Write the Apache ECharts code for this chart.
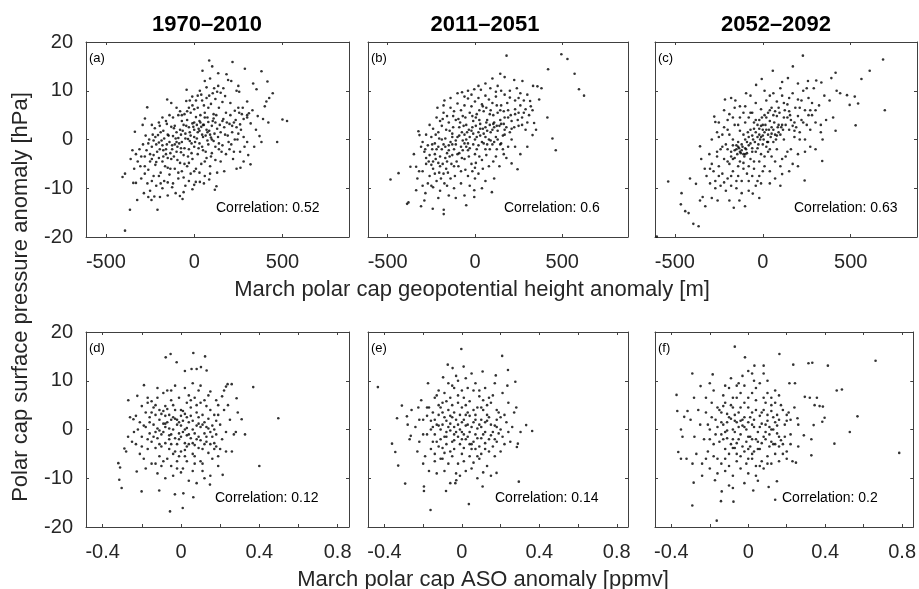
<!DOCTYPE html>
<html><head><meta charset="utf-8">
<script src="https://cdn.jsdelivr.net/npm/echarts@6/dist/echarts.min.js"></script>
<style>html,body{margin:0;padding:0;background:#fff}#c{width:919px;height:589px}</style>
</head><body><div id="c"></div><script>
const periods = ['1970–2010', '2011–2051', '2052–2092'];
const panelLetters = ['(a)', '(b)', '(c)', '(d)', '(e)', '(f)'];
const correlations = ['0.52', '0.6', '0.63', '0.12', '0.14', '0.2'];
const zTicks = [-500, 0, 500];
const asoTicks = [-0.4, -0.2, 0, 0.2, 0.4, 0.6, 0.8];
const asoLabels = [-0.4, 0, 0.4, 0.8];
const xTitleTop = 'March polar cap geopotential height anomaly [m]';
const xTitleBottom = 'March polar cap ASO anomaly [ppmv]';
const yTitle = 'Polar cap surface pressure anomaly [hPa]';

// (a) geopotential height [m] vs surface pressure [hPa], 1970–2010
const gphA = [[85,16.2],[102,15.0],[217,15.9],[47,14.1],[136,13.6],[183,13.4],[287,14.5],[381,14.0],[415,11.9],[334,11.5],[353,10.3],[445,9.5],[425,8.5],[409,7.8],[500,4.1],[526,3.8],[470,-0.5],[381,-0.5],[306,-3.2],[319,-5.1],[262,-5.8],[-392,-7.0],[-406,-7.7],[-345,-8.9],[-330,-8.9],[-323,-12.4],[-364,-14.4],[-208,-14.4],[-392,-18.7],[-260,-11.8],[-285,-11.0],[-242,-12.4],[-226,-11.7],[-194,-11.8],[-66,-12.2],[-81,-11.6],[117,-10.3],[126,-9.6],[85,-8.2],[9,-8.7],[0,-9.3],[32,-8.7],[-266,6.6],[-279,4.3],[-292,3.0],[-336,1.6],[-223,2.3],[-153,8.2],[-43,10.2],[-25,8.0],[-11,8.8],[32,10.0],[70,10.7],[113,10.5],[136,11.0],[192,12.2],[240,10.0],[255,9.8],
[150,9.6],[175,8.9],[205,7.5],[230,5.9],[250,6.5],[270,5.2],[300,5.0],[310,5.4],[330,6.0],[400,6.8],[120,8.3],[140,6.5],[160,7.7],[180,5.5],[110,5.2],[95,7.3],[80,6.5],[55,7.0],[60,5.5],[40,9.2],[20,9.0],[0,6.2],[-20,5.5],[-45,7.9],[-80,5.8],[-100,6.5],[-130,7.5],
[200,3.2],[215,2.8],[225,3.5],[240,2.5],[260,3.1],[280,4.2],[300,4.5],[320,3.3],[350,2.0],[370,0.7],[390,4.2],[340,-1.5],[300,-0.5],[280,0.5],[250,1.2],[230,0.0],[210,-1.0],[190,0.8],[170,2.5],[160,3.8],[150,1.5],[140,-0.8],[130,2.2],[120,3.5],[110,4.3],[100,2.8],[90,1.0],[80,3.6],[70,2.0],[60,4.5],[50,0.5],[40,2.6],[30,3.8],[20,1.5],[10,4.6],[0,2.0],[-10,3.3],[-20,0.8],[-30,2.5],[-40,4.0],[-50,1.2],[-60,3.0],[-70,-0.5],[-80,2.0],[-90,0.3],[-100,1.5],[-110,-1.0],[-120,0.7],[-130,2.6],[-140,-0.5],[-150,1.0],[-160,-2.0],[-170,0.2],[-180,-1.2],[-190,1.5],[-200,-0.6],[-210,-2.5],[-220,0.5],[-240,-1.5],[-250,-3.0],[-260,-0.8],[-270,-2.2],[-290,-1.0],[-300,-3.5],[-310,-2.0],[-320,-4.5],[-280,-5.5],[-260,-6.2],[-240,-4.0],[-230,-7.5],[-220,-5.2],[-200,-3.8],[-190,-6.8],[-180,-4.5],[-170,-8.5],[-160,-3.0],[-150,-5.8],[-140,-7.2],[-130,-4.0],[-120,-9.0],[-110,-6.0],[-100,-2.5],[-90,-8.0],[-80,-4.8],[-70,-6.5],[-60,-3.2],[-50,-9.5],[-40,-5.5],[-30,-2.0],[-20,-7.0],[-10,-4.0],[0,-1.5],[10,-6.0],[20,-3.0],[30,-0.8],[40,-5.0],[50,-2.2],[60,-7.5],[70,-3.8],[80,-1.0],[90,-5.5],[100,-2.8],[110,-0.3],[120,-4.2],[130,-6.8],[140,-2.0],[150,-4.5],[160,-1.2],[180,-3.0],[200,-2.0],[220,-4.0],[170,-6.5],[0,0.5],[-15,-0.8],[15,0.2],[30,1.8],[-35,0.1],[45,-1.5],[65,0.8],[-55,-1.8],[75,-0.2],[-75,1.0],[95,0.4],[-95,-1.5],[-115,2.3],[-135,-2.8],[-155,3.2],[-175,-3.5],[-195,2.8],[-215,-1.0],[-235,1.0],[-255,0.0],[-275,0.8],[-305,-5.5],[-330,-3.0],[-350,-2.2],[-265,-9.0],[-250,-10.5],[-215,-9.5],[-180,-10.0],[-150,-11.5],[-125,-9.8],[-105,-11.0],[-60,-10.8],[-30,-8.5],[55,-9.0],[-10,-10.2],[-300,-8.0],[-280,-7.0],[-340,-6.0],[-360,-4.0],[-120,4.5],[-140,5.0],[-160,3.8],[-180,4.5],[-200,3.5],[-240,3.0],[-90,5.0],[-70,3.8],[-55,5.2],[-30,6.5],[20,6.5],[35,5.0],[70,8.5],[130,9.8],[165,10.5],[90,12.5],[60,12.0],[210,12.0],[250,11.0],[300,7.8],[360,4.8],[420,3.5],[260,-2.5],[280,-4.5],[240,-6.0],
[-230,-3.2],[-215,-4.6],[-205,0.9],[-195,-2.0],[-185,-0.2],[-175,1.8],[-165,-5.5],[-155,-1.0],[-145,0.8],[-135,-6.0],[-125,-1.2],[-115,-3.5],[-105,0.2],[-95,-4.2],[-85,-0.8],[-75,-2.6],[-65,1.8],[-55,-5.0],[-45,2.8],[-35,-3.5],[-25,1.5],[-15,-2.8],[-5,2.6],[5,-0.5],[15,3.0],[25,-1.8],[35,3.5],[45,1.0],[55,3.0],[65,-2.5],[75,4.5],[85,1.8],[95,-3.5],[105,3.8],[115,1.2],[125,5.0],[135,0.5],[145,3.0],[155,-2.5],[165,4.2],[175,1.0],[185,3.5],[195,-0.5],[205,5.0],[215,1.5],[225,-2.5],[235,4.0],[245,0.0],[255,5.5],[265,2.0],[275,6.5],[285,-1.5],[-90,-6.8],[-60,-7.8],[-30,-4.8],[0,-6.5],[30,-6.8],[60,-4.5],[90,-7.0],[-150,-8.8],[-200,-7.5],[-240,-8.5],[-110,2.8],[-70,5.0],[-40,5.8],[-10,7.0],[10,8.0],[45,8.0],[85,9.0],[105,9.5],[-190,-9.0],[-250,-4.5],[-280,-3.5],[-230,-0.2],[120,-1.5],[100,0.0],[75,1.5],[50,3.0],[25,2.2],[0,3.5],[-25,-0.3],[-50,0.2],[-75,-1.8],[-100,-0.5],[-125,-2.0],[-150,-3.8],[-175,-2.2]];

// (b) 2011–2051
const gphB = [[181,17.2],[495,17.5],[530,16.5],[419,14.4],[571,13.5],[596,10.3],[625,9.0],[145,13.5],[225,12.2],[272,12.0],[333,11.0],[358,10.9],[381,10.5],[368,8.2],[316,7.9],[415,4.5],[339,3.4],[444,0.2],[463,-2.2],[330,0.9],[210,-4.9],[244,-6.1],[-484,-8.2],[-438,-6.9],[-370,-5.6],[-337,-5.6],[-381,-12.9],[-389,-13.2],[-309,-13.7],[-242,-14.2],[-179,-15.3],[-179,-14.4],[-50,-13.5],[-4,-11.8],[-4,-10.4],[97,-10.8],[-337,-10.4],[-290,-12.5],[-284,-11.0],[-175,8.0],[-74,9.7],[-4,10.3],[34,10.2],[88,10.5],[130,11.0],[-324,1.7],[-318,0.9],[-309,-1.5],
[150,10.0],[170,9.2],[200,8.6],[230,8.0],[260,7.0],[290,6.2],[120,8.8],[100,7.5],[80,8.2],[60,9.0],[40,7.2],[20,8.5],[0,7.8],[-20,6.8],[-40,8.4],[-60,7.0],[-80,6.0],[-100,7.4],[-120,5.8],[-140,6.5],[-160,4.8],[-180,5.5],[-200,3.8],[-220,4.5],[-240,2.2],[-260,3.0],[-280,1.0],[-300,-0.5],[-290,-2.5],[-270,-1.2],[-250,0.5],[-230,-0.8],[-210,1.5],[-190,2.8],[-170,0.2],[-150,3.5],[-130,1.2],[-110,4.0],[-90,2.5],[-70,4.8],[-50,3.0],[-30,5.5],[-10,3.8],[10,5.2],[30,3.2],[50,5.8],[70,4.0],[90,6.0],[110,3.5],[130,5.5],[150,7.0],[170,4.5],[190,6.0],[210,3.8],[230,5.2],[250,2.8],[270,4.5],[290,2.0],[310,5.0],[250,8.5],[200,1.5],[180,2.5],[160,0.8],[140,2.8],[120,0.5],[100,2.0],[80,0.0],[60,2.5],[40,-0.5],[20,1.5],[0,0.0],[-20,1.8],[-40,-0.8],[-60,1.0],[-80,-1.5],[-100,0.5],[-120,-2.0],[-140,-0.5],[-160,-2.8],[-180,-1.0],[-200,-3.5],[-220,-2.0],[-240,-4.5],[-260,-3.2],[-280,-5.0],[-300,-6.5],[-260,-7.5],[-240,-6.0],[-220,-8.5],[-200,-5.5],[-180,-7.0],[-160,-4.5],[-140,-8.0],[-120,-5.5],[-100,-3.0],[-80,-6.5],[-60,-4.0],[-40,-2.2],[-20,-5.0],[0,-3.0],[20,-1.2],[40,-4.2],[60,-2.0],[80,-5.5],[100,-1.0],[120,-3.5],[140,-5.5],[160,-2.0],[180,-3.8],[-160,-9.5],[-200,-10.5],[-240,-9.8],[-120,-10.0],[-80,-9.0],[-40,-7.5],[20,-7.0],[60,-8.5],[110,-8.0],[-270,-9.0],[-300,-9.5],[-330,-8.0],[-10,-1.0],[10,-2.0],[-30,0.5],[30,0.8],[-50,-1.5],[50,1.2],[-70,-0.2],[70,-1.0],[-90,-2.8],[90,1.5],[-110,-1.0],[110,-0.5],[-130,0.5],[130,1.8],[-150,-1.2],[150,-0.8],[-170,-3.8],[170,1.0],[-190,0.0],[190,-1.5],[-210,-1.5],[210,0.0],[5,4.5],[-15,2.5],[25,6.0],[45,2.2],[-45,1.5],[65,6.5],[-65,2.8],[85,3.0],[-85,3.5],[105,5.0],[-105,-4.5],[125,2.8],[-125,2.5],[145,4.0],[-145,-3.5],[165,5.8],[-165,-6.0],[185,7.5],[-185,-5.0],[205,5.0],[-205,-6.8],[225,2.5],[-225,-4.0],[245,4.0],[-245,-2.0],[280,5.5],[-280,-3.8],[300,3.5],[320,6.8],[-30,-9.5],[-60,-11.5],[-110,-12.0],[-150,-11.5],[0,-8.0],[40,-10.0],[-350,-3.0],[-320,-6.5],[-215,6.5],[-180,7.0],[-140,8.5],[-100,9.5],[-60,8.8],[-20,9.2],[60,11.5],[100,12.5],[170,12.8],[240,10.5],[300,9.2],[330,6.0],[350,2.0],[300,-1.5],[260,-3.0],[230,-1.5],
[-250,-5.2],[-230,-3.0],[-210,-4.8],[-190,-2.0],[-170,-1.5],[-150,-2.2],[-130,-3.2],[-110,-0.2],[-90,0.8],[-70,-2.2],[-50,0.0],[-30,-1.8],[-10,1.2],[10,0.5],[30,2.2],[50,-0.8],[70,1.8],[90,-0.2],[110,2.5],[130,0.0],[150,3.2],[170,2.0],[190,4.5],[210,2.2],[230,6.2],[250,5.5],[270,3.0],[-95,4.2],[-75,1.5],[-55,4.5],[-35,2.0],[-15,4.8],[5,2.8],[25,4.0],[45,6.8],[65,3.5],[85,5.2],[105,3.2],[125,7.0],[145,6.0],[165,3.2],[-145,1.8],[-125,4.8],[-165,2.0],[-185,4.2],[-205,0.2],[-225,1.0],[-245,-1.0],[-265,-4.5],[-285,-2.0],[-195,-8.0],[-175,-9.0],[-155,-6.8],[-135,-5.0],[-115,-7.5],[-95,-5.5],[-75,-3.8],[-55,-6.2],[-35,-3.5],[-15,-6.5],[5,-4.8],[25,-3.5],[45,-6.0],[65,-3.2],[85,-2.0],[105,-4.5],[125,-2.0],[145,-1.0],[165,-3.0],[-230,-7.0],[-250,-9.5],[-210,-12.0],[20,11.0],[-40,10.0],[120,9.8],[200,10.0],[260,9.5],[280,8.0],[0,-5.8],[-130,-1.0],[-60,-0.8],[60,0.5]];

// (c) 2052–2092
const gphC = [[228,17.2],[171,15.0],[57,14.1],[-6,12.4],[110,11.8],[143,12.6],[-38,11.2],[-95,9.5],[-215,8.2],[-156,8.0],[684,16.4],[608,14.1],[561,12.4],[414,13.7],[390,12.6],[304,12.1],[257,12.0],[333,11.7],[479,9.1],[523,8.8],[494,7.1],[542,7.4],[694,6.0],[528,2.9],[414,1.8],[338,-4.4],[238,-8.4],[110,-7.1],[-538,-8.6],[-462,-11.0],[-466,-13.3],[-441,-14.7],[-422,-15.1],[-395,-17.3],[-365,-17.8],[-414,-8.0],[-380,-9.1],[-357,-12.5],[-342,-11.8],[-327,-13.7],[-257,-12.5],[-165,-14.0],[-101,-13.7],[-57,-11.1],[-133,-12.5],[-603,-19.9],[-357,-1.4],[-304,-3.0],[-276,4.7],[-270,3.6],
[-220,6.0],[-190,5.2],[-160,6.5],[-130,4.5],[-100,6.8],[-70,5.5],[-40,7.5],[-10,6.2],[20,8.0],[50,6.5],[80,7.8],[110,9.0],[140,7.2],[170,9.5],[200,8.2],[230,10.0],[260,8.5],[290,10.5],[320,7.0],[350,9.0],[380,8.0],[420,10.0],[440,9.5],[260,5.0],[230,3.5],[200,4.8],[170,2.8],[140,4.5],[110,3.0],[80,4.8],[50,2.5],[20,4.5],[-10,2.8],[-40,4.0],[-70,2.0],[-100,3.5],[-130,1.8],[-160,3.0],[-190,1.0],[-220,2.5],[-250,0.5],[-240,-2.0],[-210,-1.0],[-180,-2.5],[-150,-1.2],[-120,-2.2],[-90,-0.5],[-60,-1.8],[-30,0.5],[0,-1.0],[30,1.0],[60,-0.5],[90,1.5],[120,0.0],[150,2.0],[180,0.5],[210,1.5],[240,0.0],[270,2.0],[300,3.5],[330,1.5],[300,6.0],[270,-1.5],[200,-3.0],[170,-5.0],[140,-2.5],[110,-4.0],[80,-2.0],[50,-3.5],[20,-1.5],[-10,-3.0],[-40,-2.5],[-70,-4.0],[-100,-3.0],[-130,-4.5],[-160,-3.8],[-190,-5.0],[-220,-4.0],[-250,-5.5],[-280,-6.5],[-260,-3.5],[-230,-7.0],[-200,-8.0],[-170,-6.5],[-140,-7.5],[-110,-6.0],[-80,-8.5],[-50,-6.0],[-20,-7.5],[10,-5.5],[40,-6.5],[70,-8.0],[-300,-9.0],[-270,-10.0],[-240,-9.5],[-210,-10.5],[-180,-9.5],[-150,-10.0],[-120,-11.0],[-80,-10.5],[-40,-9.5],[-10,-9.0],[-320,-7.5],[-290,-5.0],[0,2.0],[-20,1.0],[15,3.0],[-50,2.2],[35,2.0],[-80,0.5],[65,3.5],[-110,1.0],[95,5.5],[-140,-0.5],[125,6.0],[-170,0.0],[155,5.0],[-200,-2.0],[185,6.5],[-115,-1.5],[-125,-2.8],[-135,-1.8],[-95,-2.0],[-145,-3.0],[-105,-3.5],[5,0.0],[25,-0.5],[-25,-1.0],[45,0.5],[-55,0.0],[75,0.0],[-85,1.5],[105,2.5],[-5,4.5],[30,5.5],[60,5.0],[-30,3.0],[-60,5.5],[90,3.0],[120,4.5],[150,5.8],[180,3.5],[210,6.5],[240,6.0],[280,5.0],[360,4.0],[240,-2.5],[200,-5.5],[150,-6.5],[-350,-4.0],[-330,-6.0],[-200,4.0],[-230,1.0],[-180,8.5],[-70,9.0],[10,10.0],[60,9.5],[100,10.5],[200,11.5],[250,10.5],[400,4.5],[340,0.0],[300,-2.0],[100,-9.5],[40,-9.0],[-20,-12.0],[-190,-12.5],[-290,-12.0],[160,-2.0],[-260,1.5],[-290,0.0],
[-150,-2.0],[-140,-1.5],[-130,-2.5],[-120,-1.0],[-110,-3.0],[-100,-1.8],[-90,-2.8],[-80,-1.2],[-160,-2.2],[-170,-1.2],[-180,-3.5],[-60,0.8],[-40,1.5],[-20,2.2],[0,3.0],[20,2.0],[40,3.8],[10,1.5],[-10,0.5],[30,-2.5],[60,2.0],[70,1.0],[85,2.5],[100,1.0],[115,2.0],[130,3.0],[160,4.0],[190,2.5],[220,4.0],[250,3.0],[280,7.5],[150,8.5],[90,6.5],[70,5.8],[40,6.0],[10,5.0],[-20,4.0],[-50,3.5],[-80,4.5],[-110,5.5],[-140,3.0],[-170,4.5],[-200,2.0],[-230,-1.5],[-260,-2.5],[-200,-4.5],[-170,-4.0],[-140,-5.5],[-110,-4.8],[-80,-5.5],[-50,-4.5],[-20,-4.5],[10,-3.5],[40,-2.0],[70,-4.5],[100,-5.5],[130,-3.5],[0,-6.5],[-30,-8.5],[-60,-7.5],[-90,-7.0],[-120,-8.5],[-150,-8.5],[-180,-7.5],[-220,-8.8],[-250,-7.5],[-60,-2.5],[-30,-1.8],[0,0.8],[30,-0.5],[50,1.2],[80,0.8],[-100,0.0],[-70,-0.8],[-45,-0.5],[-15,0.0],[180,1.8],[210,0.0],[330,3.0],[270,6.0],[220,8.0],[120,7.5],[40,9.0],[-130,6.8],[-250,3.5],[-300,-6.0],[-270,-8.5]];

// (d) ASO [ppmv] vs surface pressure [hPa], 1970–2010
const asoD = [[-0.053,15.5],[-0.078,14.8],[0.063,15.7],[0.123,15.0],[-0.022,13.8],[0.054,12.4],[0.080,12.4],[0.102,12.8],[0.131,12.1],[0.020,12.0],[0.238,9.3],[0.259,9.3],[0.230,8.8],[0.369,8.7],[0.497,2.3],[0.400,-7.5],[0.327,-1.0],[0.310,2.1],[0.284,6.4],[-0.320,-6.9],[-0.311,-7.8],[-0.315,-10.3],[-0.303,-12.0],[-0.201,-12.7],[-0.226,-8.6],[-0.111,-12.5],[-0.056,-16.8],[0.009,-16.1],[-0.031,-13.3],[0.012,-13.1],[0.063,-13.9],[-0.269,6.0],[-0.223,6.9],[-0.189,9.1],[-0.243,2.1],[-0.289,-3.9],[0.213,-9.3],[0.148,-11.3],
[-0.22,0.0],[-0.20,-1.5],[-0.18,3.5],[-0.17,-4.0],[-0.16,1.5],[-0.15,-2.5],[-0.14,4.5],[-0.13,-0.5],[-0.12,6.5],[-0.11,2.0],[-0.10,-3.5],[-0.09,7.5],[-0.08,0.5],[-0.07,-6.0],[-0.06,3.0],[-0.05,-1.0],[-0.04,5.0],[-0.03,-4.5],[-0.02,1.0],[-0.01,-2.0],[0.00,4.0],[0.01,-0.5],[0.02,-5.5],[0.03,2.5],[0.04,-3.0],[0.05,6.0],[0.06,0.0],[0.07,-7.0],[0.08,3.5],[0.09,-1.5],[0.10,5.5],[0.11,-4.0],[0.12,1.5],[0.13,-2.5],[0.14,7.0],[0.15,-0.5],[0.16,-6.0],[0.17,3.0],[0.18,-3.5],[0.19,5.0],[0.20,1.0],[0.21,-2.0],[0.22,4.0],[0.23,-4.5],[0.25,2.0],[0.27,-1.0],[0.29,3.5],[-0.25,-2.5],[-0.23,2.8],[-0.21,-5.0],[-0.19,0.8],[-0.17,5.5],[-0.15,-7.0],[-0.13,3.0],[-0.11,-5.5],[-0.09,1.2],[-0.07,4.2],[-0.05,-7.5],[-0.03,2.2],[-0.01,6.5],[0.01,-8.0],[0.03,-1.2],[0.05,2.8],[0.07,-3.2],[0.09,8.0],[0.11,-8.5],[0.13,4.8],[0.15,-9.5],[0.17,0.0],[0.19,-5.5],[0.21,6.8],[0.23,-0.5],[-0.16,-0.8],[-0.14,1.0],[-0.12,-1.8],[-0.10,3.2],[-0.08,-2.8],[-0.06,0.2],[-0.04,2.5],[-0.02,-3.0],[0.00,0.8],[0.02,3.2],[0.04,-1.0],[0.06,1.8],[0.08,-2.0],[0.10,0.5],[0.12,-3.0],[0.14,2.2],[0.16,-1.5],[0.18,1.8],[-0.12,8.5],[-0.07,8.0],[-0.03,9.0],[0.02,8.5],[0.06,9.5],[0.10,9.0],[0.15,7.8],[-0.18,-8.0],[-0.12,-9.0],[-0.08,-10.0],[-0.04,-9.5],[0.00,-8.8],[0.04,-10.5],[0.08,-11.0],[0.12,-10.0],[-0.28,-4.5],[-0.26,2.5],[-0.27,-1.5],[0.26,-4.5],[0.28,-0.5],[0.24,5.0],[-0.10,-7.5],[-0.06,-4.0],[-0.02,-6.5],[0.02,-2.8],[0.06,-5.0],[0.10,-6.5],[0.14,-4.8],[-0.15,5.8],[-0.11,4.0],[-0.05,6.0],[0.03,5.5],[0.07,6.5],[0.11,3.0],[-0.20,4.8],[-0.24,-0.5],[-0.20,-3.5],[-0.06,-2.0],[-0.01,-0.8],[0.01,1.8],[0.05,-1.8],[-0.09,-0.5],[-0.13,-3.8],[-0.08,2.8],[0.03,0.3],[0.09,1.2],[0.13,0.5],[0.17,-2.8],[0.20,-4.0],[-0.04,-5.0],[0.00,-4.5],
[-0.18,0.5],[-0.16,2.5],[-0.14,-1.5],[-0.12,0.2],[-0.10,-1.0],[-0.08,1.2],[-0.06,-1.2],[-0.04,0.0],[-0.02,2.0],[0.00,-1.5],[0.02,0.0],[0.04,1.5],[0.06,-2.8],[0.08,0.8],[0.10,-2.2],[0.12,-0.8],[0.14,0.2],[0.16,0.8],[0.18,-1.0],[-0.15,3.5],[-0.13,5.0],[-0.11,-3.0],[-0.09,3.8],[-0.07,1.5],[-0.05,2.0],[-0.03,4.0],[-0.01,1.5],[0.01,3.8],[0.03,-3.5],[0.05,4.5],[0.07,-0.8],[0.09,2.5],[0.11,1.0],[0.13,-1.5],[0.15,4.0],[0.17,-4.0],[0.19,3.0],[-0.17,-2.0],[-0.19,-6.0],[-0.21,1.5],[-0.23,-3.0],[-0.09,-6.5],[-0.05,-3.0],[-0.01,-5.5],[0.03,-6.5],[0.07,-5.5],[0.11,-7.0],[0.15,-3.0],[0.19,-7.5],[-0.13,-7.0],[-0.17,6.5],[-0.05,8.0],[0.04,7.0],[0.08,5.0],[0.12,6.0],[0.18,6.0],[0.22,8.0],[-0.02,-8.0],[0.06,-8.5],[-0.08,4.8],[0.00,2.8],[-0.03,-1.8],[0.02,-4.2],[0.09,-3.8],[-0.11,-0.2]];

// (e) 2011–2051
const asoE = [[-0.003,16.5],[0.208,15.1],[-0.073,13.3],[-0.048,12.6],[0.009,12.9],[0.238,12.2],[0.107,11.9],[0.175,11.1],[-0.097,10.7],[-0.434,8.7],[-0.175,9.5],[0.276,9.8],[0.235,9.0],[0.281,4.5],[0.332,0.9],[0.363,-0.3],[0.303,-0.5],[0.289,-2.9],[0.284,-3.6],[0.179,-8.9],[0.294,-10.7],[0.107,-11.7],[0.036,-15.3],[-0.162,-16.5],[-0.082,-12.6],[-0.196,-11.7],[-0.196,-12.6],[-0.293,-11.1],[-0.329,-7.4],[-0.361,-2.9],[-0.344,-4.6],[-0.335,2.3],[-0.310,4.9],[-0.284,2.7],[-0.264,-1.3],[-0.225,4.5],[-0.034,-11.0],[-0.029,-10.4],
[-0.20,2.0],[-0.18,-1.0],[-0.17,4.5],[-0.16,-4.0],[-0.15,0.5],[-0.14,6.5],[-0.13,-2.5],[-0.12,3.0],[-0.11,-6.0],[-0.10,1.0],[-0.09,7.5],[-0.08,-1.5],[-0.07,4.0],[-0.06,-4.5],[-0.05,2.5],[-0.04,8.5],[-0.03,-0.5],[-0.02,5.5],[-0.01,-3.0],[0.00,1.5],[0.01,6.5],[0.02,-2.0],[0.03,3.5],[0.04,-5.5],[0.05,0.5],[0.06,8.0],[0.07,-1.0],[0.08,4.5],[0.09,-3.5],[0.10,2.0],[0.11,6.0],[0.12,-0.5],[0.13,3.0],[0.14,-4.5],[0.15,1.0],[0.16,7.0],[0.17,-2.0],[0.18,4.0],[0.19,-0.8],[0.20,2.5],[0.22,-3.0],[0.24,5.5],[0.26,0.5],[-0.22,-2.5],[-0.24,0.5],[-0.26,4.0],[-0.21,6.0],[-0.19,-5.5],[-0.17,-8.5],[-0.15,3.5],[-0.13,7.0],[-0.11,-2.0],[-0.09,2.5],[-0.07,-7.0],[-0.05,5.0],[-0.03,-9.0],[-0.01,3.0],[0.01,-6.5],[0.03,8.5],[0.05,-8.0],[0.07,2.0],[0.09,-6.0],[0.11,4.0],[0.13,-7.5],[0.15,5.5],[0.17,-5.5],[0.19,3.5],[0.21,-1.5],[0.23,1.5],[0.25,-2.5],[-0.14,-1.0],[-0.12,0.8],[-0.10,-3.8],[-0.08,1.8],[-0.06,-0.2],[-0.04,3.5],[-0.02,-1.5],[0.00,4.5],[0.02,0.8],[0.04,2.8],[0.06,-2.5],[0.08,0.2],[0.10,-1.8],[0.12,1.5],[0.14,-2.0],[-0.05,-5.5],[-0.09,-8.5],[-0.13,-9.0],[-0.01,-9.5],[0.05,-4.0],[0.10,-5.0],[0.16,-3.5],[0.20,-4.5],[-0.02,10.0],[0.02,10.5],[0.07,9.5],[0.12,8.5],[-0.07,9.5],[-0.12,8.0],[-0.03,11.0],[0.05,11.5],[0.17,9.5],[0.21,7.5],[-0.23,-4.5],[-0.27,-2.0],[-0.28,1.0],[-0.20,-7.0],[-0.16,1.8],[-0.08,5.8],[0.00,-0.5],[0.04,5.8],[0.09,6.8],[0.13,5.0],[-0.04,0.5],[0.03,-1.5],[0.07,3.0],[-0.11,4.5],[0.18,0.5],[0.22,3.0],[-0.06,1.2],[0.01,2.0],[-0.18,2.8],[0.27,3.5],[0.01,-3.8],[-0.04,-2.2],[0.06,-6.8],[-0.09,-4.8],[0.11,-8.8],[-0.14,-5.0],[0.15,-9.5],[-0.06,-11.0],[0.08,-10.0],
[-0.16,0.0],[-0.14,2.0],[-0.12,-3.5],[-0.10,3.5],[-0.08,-0.5],[-0.06,2.8],[-0.04,-1.0],[-0.02,1.0],[0.00,-2.0],[0.02,3.0],[0.04,-0.5],[0.06,1.5],[0.08,-1.8],[0.10,0.5],[0.12,-2.8],[0.14,2.5],[0.16,-0.5],[0.18,2.0],[-0.15,-2.5],[-0.13,1.0],[-0.11,0.0],[-0.09,-1.5],[-0.07,0.5],[-0.05,-2.5],[-0.03,2.0],[-0.01,0.0],[0.01,-1.0],[0.03,1.0],[0.05,-3.0],[0.07,-4.0],[0.09,1.0],[0.11,-1.0],[0.13,1.8],[0.15,-1.2],[0.17,0.8],[-0.18,4.5],[-0.10,5.5],[-0.06,6.5],[-0.02,7.0],[0.02,5.0],[0.06,4.0],[0.10,4.5],[0.14,6.5],[-0.14,-6.5],[-0.08,-3.0],[-0.04,-4.0],[0.00,-5.0],[0.04,-3.0],[0.08,-5.5],[0.12,-4.0],[-0.02,-7.0],[0.02,-8.5],[-0.10,-6.0],[0.18,-2.5],[-0.20,-1.0],[-0.22,2.0],[0.20,0.0],[0.24,-0.5],[-0.12,5.0],[0.00,8.0],[0.09,8.0],[-0.05,9.0]];

// (f) 2052–2092
const asoF = [[-0.070,17.0],[-0.017,14.8],[0.162,15.5],[0.662,14.1],[0.333,13.7],[0.313,13.6],[0.414,13.1],[0.234,13.3],[0.032,13.1],[0.080,13.1],[-0.291,11.5],[-0.185,11.3],[-0.248,8.9],[-0.373,7.1],[-0.282,6.5],[-0.369,3.8],[-0.316,3.8],[-0.333,2.6],[-0.350,0.0],[-0.342,-1.5],[-0.364,-4.6],[-0.350,-6.0],[-0.321,-6.0],[-0.284,-10.9],[-0.291,-15.6],[-0.164,-18.7],[-0.142,-14.7],[-0.077,-14.8],[-0.138,-12.7],[-0.173,-10.4],[0.026,-12.5],[0.106,-11.8],[0.149,-10.6],[0.140,-14.4],[0.248,-6.8],[0.328,-5.3],[0.448,-2.9],[0.528,-0.5],[0.568,2.7],[0.785,-4.8],[0.460,8.0],[0.487,8.2],[0.294,6.7],[0.320,6.5],[0.357,6.5],[0.345,5.0],[0.371,4.8],[0.388,4.7],[0.397,2.4],[0.385,1.6],[0.340,0.9],[0.289,-1.2],[0.328,-2.0],[0.256,2.3],[0.243,9.5],[0.214,9.5],
[-0.25,1.0],[-0.23,-2.0],[-0.22,3.5],[-0.21,-4.5],[-0.20,0.0],[-0.19,5.5],[-0.18,-3.0],[-0.17,2.0],[-0.16,-6.0],[-0.15,4.0],[-0.14,-1.0],[-0.13,7.0],[-0.12,-4.0],[-0.11,1.5],[-0.10,-7.5],[-0.09,5.0],[-0.08,-2.0],[-0.07,3.0],[-0.06,-5.0],[-0.05,0.5],[-0.04,7.5],[-0.03,-3.5],[-0.02,2.5],[-0.01,-7.0],[0.00,4.5],[0.01,-1.5],[0.02,1.0],[0.03,-4.5],[0.04,6.0],[0.05,-2.5],[0.06,2.8],[0.07,-6.5],[0.08,4.0],[0.09,-0.5],[0.10,1.8],[0.11,-3.5],[0.12,6.5],[0.13,0.0],[0.14,-5.0],[0.15,3.0],[0.16,-1.5],[0.17,5.0],[0.18,-3.0],[0.19,1.0],[0.20,-4.5],[0.21,3.5],[0.22,-1.0],[0.24,4.5],[-0.27,-5.0],[-0.26,4.0],[-0.24,-7.0],[-0.22,6.5],[-0.20,-8.0],[-0.18,8.0],[-0.16,-9.0],[-0.14,3.5],[-0.12,-8.5],[-0.10,8.5],[-0.08,-9.5],[-0.06,6.5],[-0.04,-8.0],[-0.02,9.0],[0.00,-9.0],[0.02,7.5],[0.04,-7.5],[0.06,9.5],[0.08,-8.0],[0.10,7.5],[0.12,-7.0],[0.14,8.0],[0.16,-6.5],[0.18,4.0],[0.20,-6.0],[0.22,2.0],[-0.15,-2.5],[-0.13,1.0],[-0.11,-1.8],[-0.09,2.2],[-0.07,-0.5],[-0.05,3.5],[-0.03,0.8],[-0.01,-2.5],[0.01,2.5],[0.03,0.5],[0.05,-0.5],[0.07,1.2],[0.09,-2.0],[0.11,0.5],[0.13,2.5],[0.15,-0.8],[0.17,-2.2],[-0.06,-2.8],[0.00,-4.0],[0.06,-4.0],[0.12,-2.5],[-0.12,-6.0],[-0.18,-5.5],[-0.04,-5.5],[0.02,-6.0],[0.10,-5.5],[-0.09,10.5],[-0.03,11.0],[0.03,10.0],[0.08,11.5],[0.00,12.0],[-0.06,9.0],[0.10,10.0],[-0.20,9.5],[-0.24,-9.5],[-0.28,-1.5],[-0.30,2.0],[-0.29,-7.0],[0.26,1.0],[0.26,-3.5],[0.23,-6.5],[-0.02,-11.0],[-0.10,-11.5],[0.05,-10.5],[-0.13,4.8],[-0.08,4.5],[-0.02,5.5],[0.04,4.0],[0.09,5.5],[0.14,5.5],[-0.16,0.5],[0.19,-1.5],[0.02,-2.0],[-0.04,1.8],[0.07,-2.8],[-0.11,3.2],[0.12,3.8],[-0.07,-3.8],[0.16,2.0],[0.00,1.5],[-0.20,-2.0],[0.20,1.8],
[-0.14,1.5],[-0.12,-0.5],[-0.10,2.5],[-0.08,0.0],[-0.06,1.5],[-0.04,-1.0],[-0.02,0.5],[0.00,-1.5],[0.02,3.5],[0.04,-2.0],[0.06,0.5],[0.08,-1.5],[0.10,3.0],[0.12,0.0],[0.14,1.5],[0.16,-3.5],[-0.13,-2.0],[-0.11,-0.2],[-0.09,-3.0],[-0.07,1.8],[-0.05,-2.0],[-0.03,2.0],[-0.01,0.0],[0.01,-3.5],[0.03,2.0],[0.05,-4.0],[0.07,3.5],[0.09,1.0],[0.11,-1.0],[0.13,-3.0],[0.15,0.8],[-0.17,-1.0],[-0.19,2.5],[-0.21,1.0],[-0.16,4.5],[-0.12,5.5],[-0.08,6.5],[-0.04,4.5],[0.00,6.5],[0.04,8.5],[0.08,6.5],[0.12,5.0],[-0.10,-5.0],[-0.06,-6.5],[-0.02,-4.5],[0.02,-5.0],[0.06,-7.5],[0.10,-7.0],[-0.14,-7.0],[-0.08,-3.8],[0.00,-6.0],[0.14,-3.0],[0.18,-5.0],[0.20,3.0],[0.22,-3.0],[-0.22,-6.0],[-0.05,9.5],[0.02,11.5],[-0.12,9.0],[0.16,7.0],[0.04,-9.5],[-0.08,-12.0]];

const panelData = [gphA, gphB, gphC, asoD, asoE, asoF];

const FONT = "'Liberation Sans', Arial, Helvetica, sans-serif";
const AX = '#404040';
const LBL = '#262626';
const grids = [
  {left: 86, top: 42, width: 263, height: 195},
  {left: 368, top: 42, width: 260, height: 195},
  {left: 655, top: 42, width: 262, height: 195},
  {left: 86, top: 332, width: 263, height: 195},
  {left: 368, top: 332, width: 260, height: 195},
  {left: 655, top: 332, width: 262, height: 195}
];
const corrOffset = [130, 136, 139, 129, 127, 127];
const titleCenters = [207, 485, 776];

const xAxes = [], yAxes = [], series = [], graphic = [];
grids.forEach((g, i) => {
  const top = i < 3;
  const xr = top ? {min: -613, max: 877} : {min: -0.485, max: 0.858};
  const tv = top ? zTicks : asoTicks;
  const lv = top ? zTicks : asoLabels;
  const common = {type: 'value', gridIndex: i, ...xr, splitLine: {show: false},
    axisLine: {show: true, onZero: false, lineStyle: {color: AX, width: 1}}};
  xAxes.push({...common, position: 'bottom',
    axisTick: {show: true, inside: true, length: 3, customValues: tv, lineStyle: {color: AX}},
    axisLabel: {show: true, customValues: lv, margin: 15, fontSize: 20, color: LBL, fontFamily: FONT,
      formatter: v => String(v)}});
  xAxes.push({...common, position: 'top',
    axisTick: {show: true, inside: true, length: 3, customValues: tv, lineStyle: {color: AX}},
    axisLabel: {show: false}});
  const ycommon = {type: 'value', gridIndex: i, min: -20, max: 20, interval: 10, splitLine: {show: false},
    axisLine: {show: true, onZero: false, lineStyle: {color: AX, width: 1}},
    axisTick: {show: true, inside: true, length: 3, lineStyle: {color: AX}}};
  yAxes.push({...ycommon, position: 'left',
    axisLabel: {show: i % 3 === 0, margin: 13, fontSize: 20, color: LBL, fontFamily: FONT}});
  yAxes.push({...ycommon, position: 'right', axisLabel: {show: false}});
  series.push({type: 'scatter', xAxisIndex: 2 * i, yAxisIndex: 2 * i, data: panelData[i],
    symbol: 'circle', symbolSize: 2.6, itemStyle: {color: '#000'}, silent: true, animation: false});
  graphic.push({type: 'text', left: g.left + 3, top: g.top + 10,
    style: {text: panelLetters[i], fontSize: 13, fill: '#000', fontFamily: FONT}});
  graphic.push({type: 'text', left: g.left + corrOffset[i], top: g.top + 159,
    style: {text: 'Correlation: ' + correlations[i], fontSize: 14, fill: '#000', fontFamily: FONT}});
});
periods.forEach((p, i) => {
  graphic.push({type: 'text', x: titleCenters[i], y: 25,
    style: {text: p, fontSize: 22, fontWeight: 'bold', fill: '#000', fontFamily: FONT, align: 'center', verticalAlign: 'middle'}});
});
graphic.push({type: 'text', x: 472, y: 290,
  style: {text: xTitleTop, fontSize: 22, fill: LBL, fontFamily: FONT, align: 'center', verticalAlign: 'middle'}});
graphic.push({type: 'text', x: 483, y: 580,
  style: {text: xTitleBottom, fontSize: 22, fill: LBL, fontFamily: FONT, align: 'center', verticalAlign: 'middle'}});
graphic.push({type: 'text', x: 21, y: 297, rotation: Math.PI / 2,
  style: {text: yTitle, fontSize: 22, fill: LBL, fontFamily: FONT, align: 'center', verticalAlign: 'middle'}});

const chart = echarts.init(document.getElementById('c'), null, {renderer: 'canvas'});
chart.setOption({animation: false, backgroundColor: '#fff', grid: grids, xAxis: xAxes, yAxis: yAxes, series, graphic});
</script></body></html>
